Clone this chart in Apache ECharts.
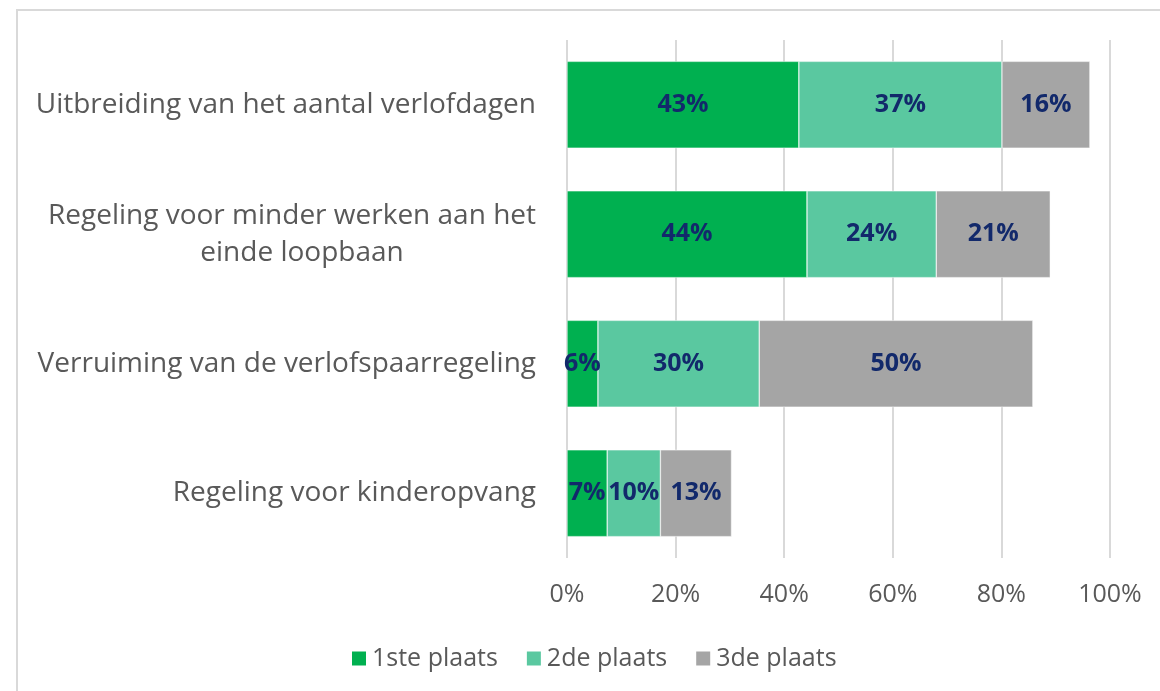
<!DOCTYPE html>
<html>
<head>
<meta charset="utf-8">
<script src="https://cdn.jsdelivr.net/npm/echarts@6/dist/echarts.min.js"></script>
<style>
  html, body { margin: 0; padding: 0; background: #fff; }
  #chart { width: 1160px; height: 691px; }
</style>
</head>
<body>
<div id="chart"></div>
<script>
// data (percent)
const categories = [
  "Uitbreiding van het aantal verlofdagen",
  "Regeling voor minder werken aan het\neinde loopbaan",
  "Verruiming van de verlofspaarregeling",
  "Regeling voor kinderopvang"
];
const seriesNames = ["1ste plaats", "2de plaats", "3de plaats"];
const first = [42.7, 44.2, 5.7, 7.4];
const second = [37.4, 23.8, 29.7, 9.8];
const third = [16.2, 21.0, 50.4, 13.1];
const xTicks = [0, 20, 40, 60, 80, 100];

const colors = ["#00B050", "#5AC8A0", "#A5A5A5"];
const font = "'Open Sans', 'Noto Sans', sans-serif";

const chart = echarts.init(document.getElementById("chart"));

function makeSeries(name, data, color) {
  return {
    name: name,
    type: "bar",
    stack: "total",
    data: data,
    barCategoryGap: "33%",
    itemStyle: { color: color, borderColor: "#fff", borderWidth: 0.5 },
    label: {
      show: true,
      position: "inside",
      formatter: function (p) { return Math.round(p.value) + "%"; },
      color: "#12296B",
      fontFamily: font,
      fontWeight: "bold",
      fontSize: 25
    }
  };
}

chart.setOption({
  animation: false,
  graphic: [{
    type: "rect",
    shape: { x: 17, y: 10, width: 1200, height: 720 },
    style: { fill: "none", stroke: "#D9D9D9", lineWidth: 2 },
    silent: true
  }],
  grid: { left: 567, right: 50, top: 40, height: 518 },
  legend: {
    data: seriesNames,
    left: 345,
    top: 641,
    icon: "rect",
    itemWidth: 16,
    itemHeight: 16,
    itemGap: 27,
    textStyle: { color: "#595959", fontFamily: font, fontSize: 25 }
  },
  xAxis: {
    type: "value",
    min: xTicks[0],
    max: xTicks[xTicks.length - 1],
    interval: 20,
    axisLine: { show: false },
    axisTick: { show: false },
    splitLine: { lineStyle: { color: "#D9D9D9", width: 2 } },
    axisLabel: {
      formatter: "{value}%",
      color: "#595959",
      fontFamily: font,
      fontSize: 25,
      margin: 24
    }
  },
  yAxis: {
    type: "category",
    data: categories,
    inverse: true,
    axisLine: { show: false },
    axisTick: { show: false },
    axisLabel: {
      color: "#595959",
      fontFamily: font,
      fontSize: 28,
      margin: 31,
      lineHeight: 37,
      formatter: function (v) {
        const parts = v.split("\n");
        if (parts.length === 1) return v;
        return "{a|" + parts[0] + "}\n{b|" + parts[1] + "}";
      },
      rich: {
        a: { fontSize: 28, fontFamily: font, color: "#595959", lineHeight: 37 },
        b: { fontSize: 28, fontFamily: font, color: "#595959", lineHeight: 37, align: "center", padding: [0, 0, 0, 20] }
      }
    }
  },
  series: [
    makeSeries(seriesNames[0], first, colors[0]),
    makeSeries(seriesNames[1], second, colors[1]),
    makeSeries(seriesNames[2], third, colors[2])
  ]
});
</script>
</body>
</html>
